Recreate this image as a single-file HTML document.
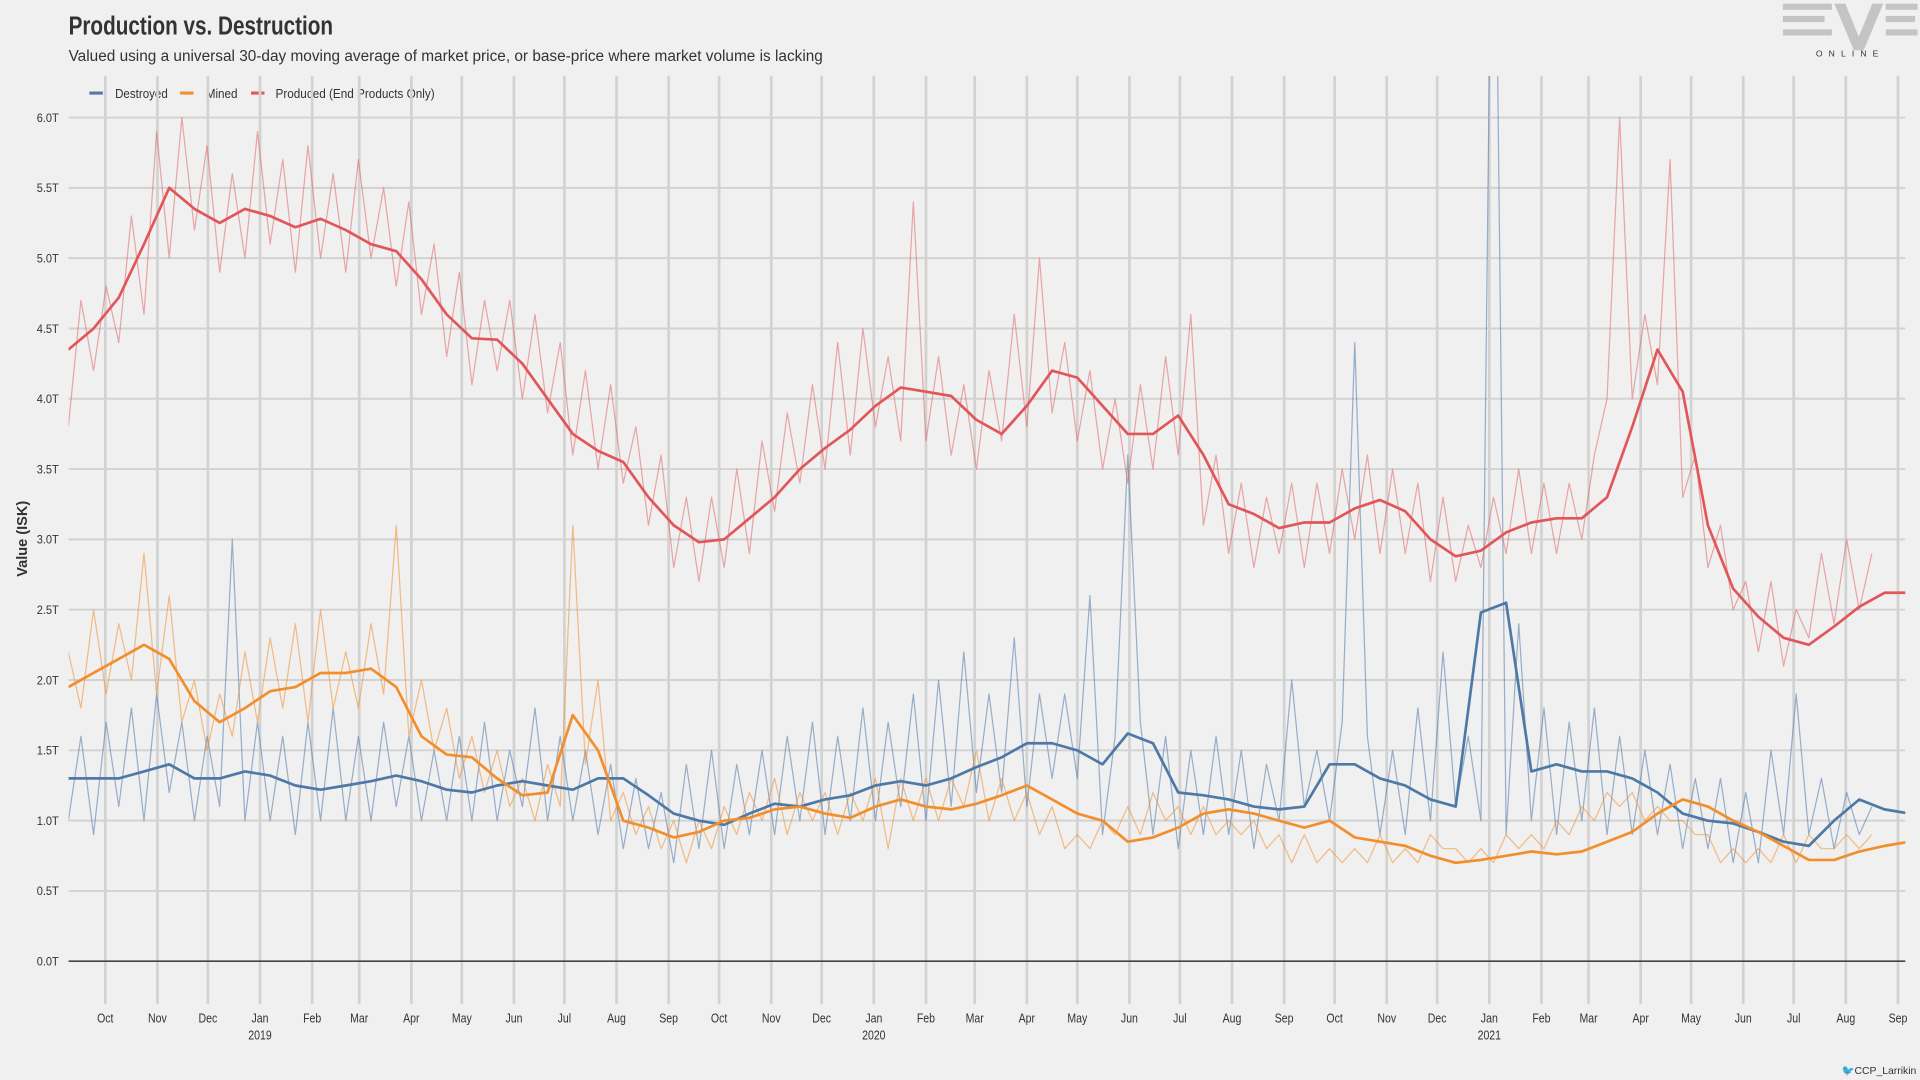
<!DOCTYPE html>
<html><head><meta charset="utf-8"><title>Production vs. Destruction</title>
<style>
html,body{margin:0;padding:0;background:#f0f0f0;width:1920px;height:1080px;overflow:hidden}
svg{display:block}
text{font-family:"Liberation Sans Narrow","Liberation Sans",sans-serif;fill:#333}
</style></head>
<body>
<svg id="chart" width="1920" height="1080" viewBox="0 0 1568 882" xmlns="http://www.w3.org/2000/svg">
<rect width="1568" height="882" fill="#f0f0f0"/>
<text x="56" y="28" font-size="21" font-weight="bold" fill="#333" textLength="216" lengthAdjust="spacingAndGlyphs">Production vs. Destruction</text>
<text x="56" y="50" font-size="13" fill="#333" textLength="616" lengthAdjust="spacingAndGlyphs">Valued using a universal 30-day moving average of market price, or base-price where market volume is lacking</text>
<g font-size="10.5">
 <g><line x1="73" y1="76" x2="84" y2="76" stroke="#4e79a7" stroke-width="2.5"/><text x="94" y="80" textLength="43" lengthAdjust="spacingAndGlyphs">Destroyed</text></g>
 <g><line x1="147" y1="76" x2="158" y2="76" stroke="#f28e2b" stroke-width="2.5"/><text x="168" y="80" textLength="26" lengthAdjust="spacingAndGlyphs">Mined</text></g>
 <g><line x1="205" y1="76" x2="216" y2="76" stroke="#e15759" stroke-width="2.5"/><text x="225" y="80" textLength="130" lengthAdjust="spacingAndGlyphs">Produced (End Products Only)</text></g>
</g>
<g fill="#c4c4c4">
 <rect x="1456" y="3" width="40" height="5"/><rect x="1456" y="13" width="34" height="5"/><rect x="1456" y="24" width="40" height="5"/>
 <polygon points="1498,3 1507,3 1518,30 1529,3 1538,3 1522,41 1514,41"/>
 <rect x="1540" y="3" width="26" height="5"/><rect x="1540" y="13" width="24" height="5"/><rect x="1540" y="24" width="26" height="5"/>
 <text x="1511" y="46" font-size="7" fill="#c4c4c4" text-anchor="middle" letter-spacing="5">ONLINE</text>
</g>
<text transform="translate(22,440) rotate(-90)" font-size="12" font-weight="bold" text-anchor="middle" textLength="62" lengthAdjust="spacingAndGlyphs">Value (ISK)</text>
<text x="1565" y="877" font-size="8.5" text-anchor="end" fill="#555">🐦CCP_Larrikin</text>
<defs><clipPath id="plotclip"><rect x="56" y="62" width="1500" height="730"/></clipPath></defs>
<g id="grid"></g>
<g id="series" clip-path="url(#plotclip)"></g>
<g id="axes"></g>
</svg>
<script>
// ---- data ----
const yTicks = [0,0.5,1,1.5,2,2.5,3,3.5,4,4.5,5,5.5,6];
const yTickLabels = ["0.0T","0.5T","1.0T","1.5T","2.0T","2.5T","3.0T","3.5T","4.0T","4.5T","5.0T","5.5T","6.0T"];
// month ticks: days since 2018-10-01
const monthDays = [0,31,61,92,123,151,182,212,243,273,304,335,365,396,426,457,488,517,548,578,609,639,670,701,731,762,792,823,854,882,913,943,974,1004,1035,1066];
const monthLabels = ["Oct","Nov","Dec","Jan","Feb","Mar","Apr","May","Jun","Jul","Aug","Sep","Oct","Nov","Dec","Jan","Feb","Mar","Apr","May","Jun","Jul","Aug","Sep","Oct","Nov","Dec","Jan","Feb","Mar","Apr","May","Jun","Jul","Aug","Sep"];
const yearLabels = {"3":"2019","15":"2020","27":"2021"};
// moving averages sampled every 15 days starting day -22
const producedMA = [4.35,4.5,4.72,5.1,5.5,5.35,5.25,5.35,5.3,5.22,5.28,5.2,5.1,5.05,4.85,4.6,4.43,4.42,4.25,4.0,3.75,3.63,3.55,3.3,3.1,2.98,3.0,3.15,3.3,3.5,3.65,3.78,3.95,4.08,4.05,4.02,3.85,3.75,3.95,4.2,4.15,3.95,3.75,3.75,3.88,3.6,3.25,3.18,3.08,3.12,3.12,3.22,3.28,3.2,3.0,2.88,2.92,3.05,3.12,3.15,3.15,3.3,3.8,4.35,4.05,3.1,2.65,2.45,2.3,2.25,2.38,2.52,2.62,2.62];
const minedMA = [1.95,2.05,2.15,2.25,2.15,1.85,1.7,1.8,1.92,1.95,2.05,2.05,2.08,1.95,1.6,1.47,1.45,1.3,1.18,1.2,1.75,1.5,1.0,0.95,0.88,0.92,1.0,1.02,1.08,1.1,1.05,1.02,1.1,1.15,1.1,1.08,1.12,1.18,1.25,1.15,1.05,1.0,0.85,0.88,0.95,1.05,1.08,1.05,1.0,0.95,1.0,0.88,0.85,0.82,0.75,0.7,0.72,0.75,0.78,0.76,0.78,0.85,0.92,1.05,1.15,1.1,1.0,0.92,0.82,0.72,0.72,0.78,0.82,0.85];
const destroyedMA = [1.3,1.3,1.3,1.35,1.4,1.3,1.3,1.35,1.32,1.25,1.22,1.25,1.28,1.32,1.28,1.22,1.2,1.25,1.28,1.25,1.22,1.3,1.3,1.18,1.05,1.0,0.97,1.05,1.12,1.1,1.15,1.18,1.25,1.28,1.25,1.3,1.38,1.45,1.55,1.55,1.5,1.4,1.62,1.55,1.2,1.18,1.15,1.1,1.08,1.1,1.4,1.4,1.3,1.25,1.15,1.1,2.48,2.55,1.35,1.4,1.35,1.35,1.3,1.2,1.05,1.0,0.98,0.92,0.85,0.82,1.0,1.15,1.08,1.05];
// raw values sampled every 7.5 days starting day -22
const producedRaw = [3.8,4.7,4.2,4.8,4.4,5.3,4.6,5.9,5.0,6.0,5.2,5.8,4.9,5.6,5.0,5.9,5.1,5.7,4.9,5.8,5.0,5.6,4.9,5.7,5.0,5.5,4.8,5.4,4.6,5.1,4.3,4.9,4.1,4.7,4.2,4.7,4.0,4.6,3.9,4.4,3.6,4.2,3.5,4.1,3.4,3.8,3.1,3.6,2.8,3.3,2.7,3.3,2.8,3.5,2.9,3.7,3.2,3.9,3.4,4.1,3.5,4.4,3.6,4.5,3.8,4.3,3.7,5.4,3.7,4.3,3.6,4.1,3.5,4.2,3.7,4.6,3.8,5.0,3.9,4.4,3.7,4.2,3.5,4.0,3.4,4.1,3.5,4.3,3.6,4.6,3.1,3.6,2.9,3.4,2.8,3.3,2.9,3.4,2.8,3.4,2.9,3.5,3.0,3.6,2.9,3.5,2.9,3.4,2.7,3.3,2.7,3.1,2.8,3.3,2.9,3.5,2.9,3.4,2.9,3.4,3.0,3.6,4.0,6.0,4.0,4.6,4.1,5.7,3.3,3.6,2.8,3.1,2.5,2.7,2.2,2.7,2.1,2.5,2.3,2.9,2.4,3.0,2.5,2.9];
const minedRaw = [2.2,1.8,2.5,1.9,2.4,2.0,2.9,1.9,2.6,1.7,2.0,1.5,1.9,1.6,2.2,1.7,2.3,1.8,2.4,1.7,2.5,1.8,2.2,1.8,2.4,1.9,3.1,1.6,2.0,1.5,1.8,1.3,1.6,1.2,1.5,1.1,1.3,1.0,1.4,1.1,3.1,1.4,2.0,1.0,1.2,0.9,1.1,0.8,1.0,0.7,1.0,0.8,1.1,0.9,1.2,1.0,1.3,0.9,1.2,1.0,1.2,0.9,1.2,1.0,1.3,0.8,1.3,1.0,1.3,1.0,1.3,1.1,1.5,1.0,1.3,1.0,1.2,0.9,1.1,0.8,0.9,0.8,1.0,0.9,1.1,0.9,1.2,1.0,1.1,0.9,1.1,0.9,1.0,0.9,1.0,0.8,0.9,0.7,0.9,0.7,0.8,0.7,0.8,0.7,0.9,0.7,0.8,0.7,0.9,0.8,0.8,0.7,0.8,0.7,0.9,0.8,0.9,0.8,1.0,0.9,1.1,1.0,1.2,1.1,1.2,1.0,1.1,1.0,1.0,0.9,0.9,0.7,0.8,0.7,0.8,0.7,0.9,0.7,0.9,0.8,0.8,0.9,0.8,0.9];
const destroyedRaw = [1.0,1.6,0.9,1.7,1.1,1.8,1.0,1.9,1.2,1.7,1.0,1.6,1.1,3.0,1.0,1.7,1.0,1.6,0.9,1.7,1.0,1.8,1.0,1.6,1.0,1.7,1.1,1.6,1.0,1.5,1.0,1.6,1.0,1.7,1.0,1.5,1.1,1.8,1.0,1.6,1.0,1.5,0.9,1.4,0.8,1.3,0.8,1.2,0.7,1.4,0.8,1.5,0.8,1.4,0.9,1.5,0.9,1.6,1.0,1.7,0.9,1.6,1.0,1.8,1.0,1.7,1.1,1.9,1.0,2.0,1.1,2.2,1.2,1.9,1.2,2.3,1.1,1.9,1.3,1.9,1.3,2.6,0.9,1.6,3.6,1.7,0.9,1.6,0.8,1.5,0.9,1.6,0.9,1.5,0.8,1.4,1.0,2.0,1.1,1.5,1.0,1.7,4.4,1.6,0.9,1.5,0.9,1.8,1.0,2.2,1.1,1.6,1.0,9.0,0.9,2.4,1.0,1.8,0.9,1.7,1.0,1.8,0.9,1.6,0.9,1.5,0.9,1.4,0.8,1.3,0.8,1.3,0.7,1.2,0.7,1.5,0.9,1.9,0.9,1.3,0.8,1.2,0.9,1.1];

// ---- scales ----
const X0 = 86, XK = (1550-86)/1066;
const xScale = d => X0 + d*XK;
const yScale = v => 785 - v*(785-96)/6;
const NS = "http://www.w3.org/2000/svg";
function mk(tag, attrs, parent){const e=document.createElementNS(NS,tag);for(const k in attrs)e.setAttribute(k,attrs[k]);parent.appendChild(e);return e;}
const grid=document.getElementById('grid'), series=document.getElementById('series'), axes=document.getElementById('axes');

yTicks.forEach((v,i)=>{
  if(v>0){const l=mk('line',{x1:56,x2:1556,y1:yScale(v),y2:yScale(v),stroke:'#d2d2d2','stroke-width':1.6},grid);
    
    }
  const t=mk('text',{x:48,y:yScale(v)+3.5,'font-size':10,'text-anchor':'end',textLength:18,lengthAdjust:'spacingAndGlyphs'},axes);
  t.textContent=yTickLabels[i];
  
  
});
monthDays.forEach((d,i)=>{
  const x=xScale(d);
  const l=mk('line',{x1:x,x2:x,y1:62,y2:820,stroke:'#d2d2d2','stroke-width':2.2},grid);
  
  
  const t=mk('text',{x:x,y:835,'font-size':10.5,'text-anchor':'middle',transform:'translate('+x+',0) scale(0.82,1) translate('+(-x)+',0)'},axes);
  t.textContent=monthLabels[i];
  
  
  if(yearLabels[i]){const y=mk('text',{x:x,y:849,'font-size':10.5,'text-anchor':'middle',transform:'translate('+x+',0) scale(0.82,1) translate('+(-x)+',0)'},axes);
    y.textContent=yearLabels[i];
    
    }
});
const zl=mk('line',{x1:56,x2:1556,y1:yScale(0),y2:yScale(0),stroke:'#444','stroke-width':1.3},axes);



function path(vals, step, color, width, opacity, name){
  const pts=vals.map((v,i)=>xScale(-22+i*step).toFixed(1)+','+yScale(v).toFixed(1));
  const p=mk('polyline',{points:pts.join(' '),fill:'none',stroke:color,'stroke-width':width,'stroke-opacity':opacity,'stroke-linejoin':'round'},series);
  
  
}
path(destroyedRaw,7.5,'#4e79a7',1,0.55,'destroyed-daily-line');
path(minedRaw,7.5,'#f28e2b',1,0.55,'mined-daily-line');
path(producedRaw,7.5,'#e15759',1,0.5,'produced-daily-line');
path(destroyedMA,15,'#4e79a7',2.2,1,'destroyed-average-line');
path(minedMA,15,'#f28e2b',2.2,1,'mined-average-line');
path(producedMA,15,'#e15759',2.2,1,'produced-average-line');
</script>
</body></html>
